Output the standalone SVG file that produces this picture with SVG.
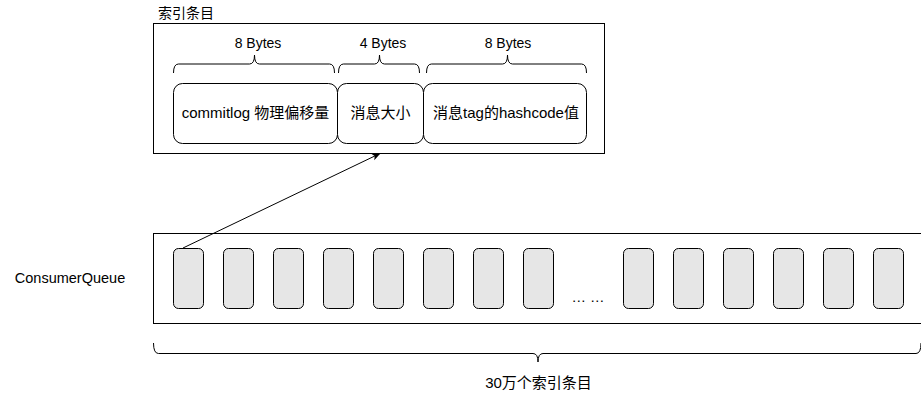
<svg xmlns="http://www.w3.org/2000/svg" width="921" height="401" viewBox="0 0 921 401">
<style>
text{font-family:"Liberation Sans","Noto Sans CJK SC",sans-serif;fill:#000}
.box{fill:#fff;stroke:#000;stroke-width:1}
.cell{fill:#fff;stroke:#000;stroke-width:1}
.item{fill:#e6e6e6;stroke:#000;stroke-width:1}
.brace{fill:none;stroke:#000;stroke-width:1}
.lbl{font-size:14px;text-anchor:middle}
.big{font-size:15px;text-anchor:middle}
</style>
<defs>
<marker id="arr" viewBox="0 0 10 10" refX="9" refY="5" markerWidth="9" markerHeight="9" markerUnits="userSpaceOnUse" orient="auto">
<path d="M0,1 L10,5 L0,9 L2.5,5 Z" fill="#000"/>
</marker>
</defs>
<rect width="921" height="401" fill="#fff"/>
<g id="index-entry">
<text x="158" y="18" font-size="14">索引条目</text>
<rect class="box" x="153.5" y="23.5" width="451" height="130"/>
<g id="field-offset">
<rect class="cell" x="173.5" y="83.5" width="164" height="60" rx="9"/>
<text class="big" x="255.5" y="118">commitlog 物理偏移量</text>
</g>
<g id="field-size">
<rect class="cell" x="337.5" y="83.5" width="86" height="60" rx="9"/>
<text class="big" x="380.5" y="118">消息大小</text>
</g>
<g id="field-tag">
<rect class="cell" x="423.5" y="83.5" width="163" height="60" rx="9"/>
<text class="big" x="506" y="118" font-size="15.5">消息tag的hashcode值</text>
</g>
<g id="brace-1">
<path class="brace" d="M173.5,73 Q173.5,64 178.5,64 L249.5,64 Q254.5,64 254.5,55 Q254.5,64 259.5,64 L329.5,64 Q334.5,64 334.5,73"/>
<text class="lbl" x="258" y="48">8 Bytes</text>
</g>
<g id="brace-2">
<path class="brace" d="M338.5,73 Q338.5,64 343.5,64 L374.5,64 Q379.5,64 379.5,55 Q379.5,64 384.5,64 L414.5,64 Q419.5,64 419.5,73"/>
<text class="lbl" x="383" y="48">4 Bytes</text>
</g>
<g id="brace-3">
<path class="brace" d="M426.5,73 Q426.5,64 431.5,64 L502.5,64 Q507.5,64 507.5,55 Q507.5,64 512.5,64 L581.5,64 Q586.5,64 586.5,73"/>
<text class="lbl" x="508" y="48">8 Bytes</text>
</g>
</g>
<g id="consumer-queue">
<text x="70" y="283" font-size="14.5" text-anchor="middle">ConsumerQueue</text>
<rect class="box" x="153.5" y="233.5" width="768" height="90"/>
<g id="items">
<rect class="item" x="173.5" y="248.5" width="30" height="60" rx="5"/>
<rect class="item" x="223.5" y="248.5" width="30" height="60" rx="5"/>
<rect class="item" x="273.5" y="248.5" width="30" height="60" rx="5"/>
<rect class="item" x="323.5" y="248.5" width="30" height="60" rx="5"/>
<rect class="item" x="373.5" y="248.5" width="30" height="60" rx="5"/>
<rect class="item" x="423.5" y="248.5" width="30" height="60" rx="5"/>
<rect class="item" x="473.5" y="248.5" width="30" height="60" rx="5"/>
<rect class="item" x="523.5" y="248.5" width="30" height="60" rx="5"/>
<rect class="item" x="623.5" y="248.5" width="30" height="60" rx="5"/>
<rect class="item" x="673.5" y="248.5" width="30" height="60" rx="5"/>
<rect class="item" x="723.5" y="248.5" width="30" height="60" rx="5"/>
<rect class="item" x="773.5" y="248.5" width="30" height="60" rx="5"/>
<rect class="item" x="823.5" y="248.5" width="30" height="60" rx="5"/>
<rect class="item" x="873.5" y="248.5" width="30" height="60" rx="5"/>
</g>
<text x="588" y="302" font-size="14.5" text-anchor="middle">… …</text>
</g>
<g id="count-brace">
<path class="brace" d="M153.5,343 Q153.5,353.5 158.5,353.5 L533,353.5 Q538,353.5 538,362 Q538,353.5 543,353.5 L916,353.5 Q921,353.5 921,343"/>
<text class="big" x="538.5" y="388" font-size="15.3">30万个索引条目</text>
</g>
<g id="connectors">
<line x1="183" y1="248" x2="380" y2="153.5" stroke="#000" stroke-width="1" marker-end="url(#arr)"/>
</g>
</svg>
